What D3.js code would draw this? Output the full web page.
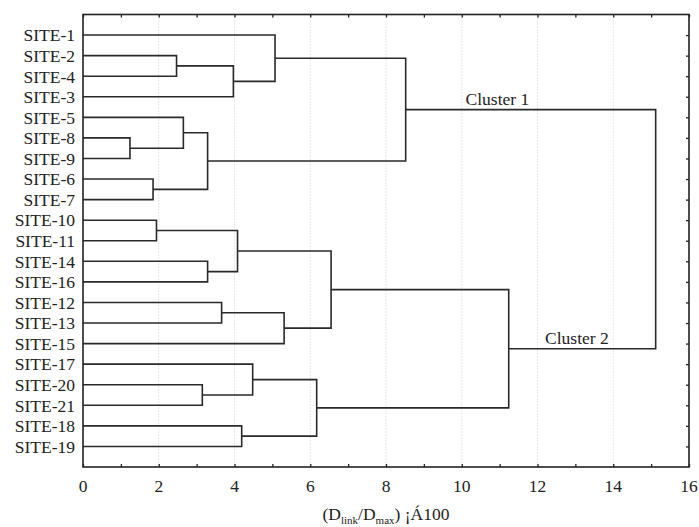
<!DOCTYPE html>
<html>
<head>
<meta charset="utf-8">
<script src="https://cdn.jsdelivr.net/npm/d3@7"></script>
<style>
  body { margin: 0; background: #fff; }
</style>
</head>
<body>
<div id="chart"></div>
<script>
// leaf order, top to bottom
var sites = ["SITE-1", "SITE-2", "SITE-4", "SITE-3", "SITE-5", "SITE-8", "SITE-9",
             "SITE-6", "SITE-7", "SITE-10", "SITE-11", "SITE-14", "SITE-16", "SITE-12",
             "SITE-13", "SITE-15", "SITE-17", "SITE-20", "SITE-21", "SITE-18", "SITE-19"];

// merges: each joins two members (site name or "m" + merge index) at a linkage distance
var mergeA = ["SITE-8", "SITE-6", "SITE-10", "SITE-2", "SITE-5", "SITE-20", "SITE-14",
              "m4", "SITE-12", "m3", "m2", "SITE-18", "SITE-17", "SITE-1", "m8",
              "m12", "m10", "m13", "m16", "m17"];
var mergeB = ["SITE-9", "SITE-7", "SITE-11", "SITE-4", "m0", "SITE-21", "SITE-16",
              "m1", "SITE-13", "SITE-3", "m6", "SITE-19", "m5", "m9", "SITE-15",
              "m11", "m14", "m7", "m15", "m18"];
var mergeHeight = [1.24, 1.85, 1.94, 2.47, 2.65, 3.15, 3.29,
                   3.29, 3.66, 3.97, 4.08, 4.19, 4.48, 5.07, 5.31,
                   6.17, 6.55, 8.52, 11.24, 15.12];

var xTicks = [0, 2, 4, 6, 8, 10, 12, 14, 16];
var clusterNames = ["Cluster 1", "Cluster 2"];
var clusterNode = ["m17", "m18"];
var clusterLabelAt = [10.1, 12.2];

function init() {
    var w = 699;
    var h = 527;
    var left = 83, right = 689, top = 14.5, bottom = 467;
    var font = "'Liberation Serif', 'Times New Roman', Times, serif";

    var svg = d3.select("#chart")
        .append("svg")
        .attr("width", w)
        .attr("height", h)
        .attr("font-family", font);

    var x = d3.scaleLinear().domain([0, 16]).range([left, right]);
    var y = d3.scalePoint().domain(sites).range([top, bottom]).padding(1);

    // grid lines
    svg.selectAll("line.grid")
        .data(xTicks.slice(1, -1))
        .enter()
        .append("line")
        .attr("class", "grid")
        .attr("x1", function (d) { return x(d); })
        .attr("x2", function (d) { return x(d); })
        .attr("y1", top)
        .attr("y2", bottom)
        .attr("stroke", "#cfcfcf")
        .attr("stroke-width", 1)
        .attr("stroke-dasharray", "1,2");

    // positions of every member
    var pos = {};
    sites.forEach(function (s) { pos[s] = { x: 0, y: y(s) }; });
    mergeA.forEach(function (a, i) {
        var b = mergeB[i];
        pos["m" + i] = { x: mergeHeight[i], y: (pos[a].y + pos[b].y) / 2 };
    });

    var links = mergeA.map(function (a, i) {
        return { a: pos[a], b: pos[mergeB[i]], hgt: mergeHeight[i] };
    });

    svg.selectAll("path.link")
        .data(links)
        .enter()
        .append("path")
        .attr("class", "link")
        .attr("fill", "none")
        .attr("stroke", "#2a2a2a")
        .attr("stroke-width", 1.6)
        .attr("d", function (d) {
            return "M" + x(d.a.x) + "," + d.a.y +
                   "H" + x(d.hgt) +
                   "V" + d.b.y +
                   "H" + x(d.b.x);
        });

    // axes (ticks pointing inward)
    var minor = d3.range(0, 17);
    svg.append("g")
        .attr("transform", "translate(0," + bottom + ")")
        .call(d3.axisTop(x).tickValues(minor).tickSize(3).tickFormat(""))
        .call(function (g) { g.select(".domain").remove(); });
    svg.append("g")
        .attr("transform", "translate(0," + top + ")")
        .call(d3.axisBottom(x).tickValues(minor).tickSize(3).tickFormat(""))
        .call(function (g) { g.select(".domain").remove(); });
    svg.append("g")
        .attr("transform", "translate(" + right + ",0)")
        .call(d3.axisLeft(y).tickSize(3).tickFormat(""))
        .call(function (g) { g.select(".domain").remove(); });
    svg.selectAll(".tick line").attr("stroke", "#222").attr("stroke-width", 1.3);

    // frame
    svg.append("rect")
        .attr("x", left)
        .attr("y", top)
        .attr("width", right - left)
        .attr("height", bottom - top)
        .attr("fill", "none")
        .attr("stroke", "#222")
        .attr("stroke-width", 1.6);

    // site labels
    svg.selectAll("text.site")
        .data(sites)
        .enter()
        .append("text")
        .attr("class", "site")
        .attr("x", left - 8)
        .attr("y", function (d) { return y(d); })
        .attr("dy", "0.36em")
        .attr("text-anchor", "end")
        .attr("font-family", font)
        .attr("font-size", 17.5)
        .attr("fill", "#222")
        .text(function (d) { return d; });

    // x tick labels
    svg.selectAll("text.xt")
        .data(xTicks)
        .enter()
        .append("text")
        .attr("class", "xt")
        .attr("x", function (d) { return x(d); })
        .attr("y", 492)
        .attr("text-anchor", "middle")
        .attr("font-family", font)
        .attr("font-size", 17.5)
        .attr("fill", "#222")
        .text(function (d) { return d; });

    // cluster labels, above the branch leading to the root
    svg.selectAll("text.cl")
        .data(clusterNames)
        .enter()
        .append("text")
        .attr("class", "cl")
        .attr("x", function (d, i) { return x(clusterLabelAt[i]); })
        .attr("y", function (d, i) { return pos[clusterNode[i]].y - 5; })
        .attr("font-family", font)
        .attr("font-size", 17.5)
        .attr("fill", "#222")
        .text(function (d) { return d; });

    // axis title
    var t = svg.append("text")
        .attr("x", (left + right) / 2)
        .attr("y", 520)
        .attr("text-anchor", "middle")
        .attr("font-family", font)
        .attr("font-size", 17.5)
        .attr("fill", "#222");
    t.append("tspan").text("(D");
    t.append("tspan").attr("dy", 4).attr("font-size", 11).text("link");
    t.append("tspan").attr("dy", -4).text("/D");
    t.append("tspan").attr("dy", 4).attr("font-size", 11).text("max");
    t.append("tspan").attr("dy", -4).text(") ¡Á100");
}

window.onload = init;
</script>
</body>
</html>
